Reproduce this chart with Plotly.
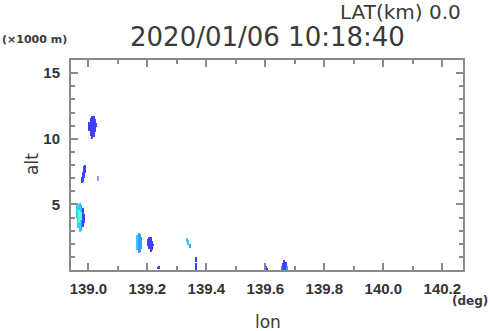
import plotly.graph_objects as go

# ---- data ----
# echo columns: longitude (deg), bottom altitude, top altitude (x1000 m), intensity level
col_lon = [139.004, 139.009, 139.014, 139.019, 139.024, 139.028,
           138.978, 138.982, 138.986, 138.990,
           139.033,
           138.986, 138.982, 138.977, 138.962, 138.967, 138.972, 138.970, 138.975,
           139.166, 139.171, 139.176, 139.180,
           139.202, 139.207, 139.212, 139.217, 139.221,
           139.235, 139.239,
           139.336, 139.340, 139.345,
           139.365, 139.367,
           139.602, 139.606,
           139.657, 139.661, 139.665, 139.669, 139.673]
col_lo = [10.6, 10.2, 10.0, 10.1, 10.5, 10.9,
          6.6, 6.7, 7.0, 7.4,
          6.8,
          3.6, 3.3, 3.0, 4.0, 3.2, 2.9, 3.6, 3.8,
          1.5, 1.3, 1.35, 1.6,
          1.8, 1.6, 1.35, 1.5, 1.8,
          0.05, 0.05,
          2.1, 1.9, 1.7,
          0.0, 0.6,
          0.0, 0.0,
          0.0, 0.0, 0.0, 0.0, 0.0]
col_hi = [11.3, 11.6, 11.75, 11.7, 11.5, 11.2,
          7.1, 7.5, 7.9, 8.0,
          7.2,
          4.3, 4.7, 4.95, 5.0, 5.05, 5.1, 4.6, 4.4,
          2.7, 2.8, 2.75, 2.5,
          2.4, 2.55, 2.5, 2.2, 2.0,
          0.25, 0.3,
          2.45, 2.3, 2.0,
          0.5, 1.0,
          0.3, 0.15,
          0.3, 0.55, 0.75, 0.6, 0.3]
col_level = [2, 2, 2, 2, 2, 2,
             2, 2, 2, 2,
             1,
             2, 2, 3, 4, 4, 4, 5, 5,
             4, 3, 3, 3,
             2, 2, 2, 2, 2,
             2, 2,
             4, 4, 3,
             2, 2,
             2, 2,
             3, 2, 2, 2, 3]

x_ticks = [139.0, 139.2, 139.4, 139.6, 139.8, 140.0, 140.2]
y_ticks = [5, 10, 15]

title_text = "2020/01/06 10:18:40"
lat_text = "LAT(km) 0.0"

level_colors = {1: "#9a9aff", 2: "#4040ff", 3: "#3a9cff", 4: "#33ccff", 5: "#55ffd0"}

# ---- layout geometry (pixels) ----
W, H = 490, 331
L, R, T, B = 71, 27, 60, 61
pw, ph = W - L - R, H - T - B

def px(x):
    return (x - L) / pw

def py(y):
    return (H - B - y) / ph

fig = go.Figure()
fig.add_trace(go.Bar(
    x=col_lon,
    y=[h - l for h, l in zip(col_hi, col_lo)],
    base=col_lo,
    width=0.0048,
    marker=dict(color=[level_colors[v] for v in col_level], line=dict(width=0)),
    hoverinfo="skip",
))

axis_common = dict(
    ticks="inside", ticklen=7, tickwidth=1.5, tickcolor="#8a8a8a",
    showline=True, linecolor="#8a8a8a", linewidth=2, mirror="allticks",
    showgrid=False, zeroline=False,
    tickfont=dict(family="Liberation Sans", size=15, color="#333333", weight="bold"),
)

fig.update_layout(
    width=W, height=H,
    margin=dict(l=L, r=R, t=T, b=B, pad=0),
    paper_bgcolor="white", plot_bgcolor="white",
    showlegend=False, barmode="overlay", bargap=0,
    xaxis=dict(range=[138.941, 140.27], tickvals=x_ticks,
               ticktext=[f"{v:.1f}" for v in x_ticks],
               minor=dict(dtick=0.1, tick0=139.0, ticks="inside", ticklen=4,
                          tickcolor="#8a8a8a", tickwidth=1.5),
               ticklabelstandoff=4,
               **axis_common),
    yaxis=dict(range=[0, 16], tickvals=y_ticks,
               minor=dict(dtick=1, tick0=0, ticks="inside", ticklen=4,
                          tickcolor="#8a8a8a", tickwidth=1.5),
               ticklabelstandoff=6,
               **axis_common),
)

ann = [
    dict(text=title_text, x=px(267.5), y=py(37), xanchor="center", yanchor="middle",
         font=dict(family="DejaVu Sans", size=26, color="#3a3a3a")),
    dict(text=lat_text, x=px(463), y=py(12), xanchor="right", yanchor="middle",
         font=dict(family="DejaVu Sans", size=20, color="#3a3a3a")),
    dict(text="(×1000 m)", x=px(0), y=py(40), xanchor="left", yanchor="middle",
         font=dict(family="DejaVu Sans", size=11, color="#3a3a3a", weight="bold")),
    dict(text="(deg)", x=px(490), y=py(301), xanchor="right", yanchor="middle",
         font=dict(family="DejaVu Sans", size=12, color="#3a3a3a", weight="bold")),
    dict(text="lon", x=px(268), y=py(322), xanchor="center", yanchor="middle",
         font=dict(family="DejaVu Sans", size=17, color="#3a3a3a")),
    dict(text="alt", x=px(32), y=py(164), xanchor="center", yanchor="middle", textangle=-90,
         font=dict(family="DejaVu Sans", size=17, color="#3a3a3a")),
]
for a in ann:
    a.update(xref="paper", yref="paper", showarrow=False)
fig.update_layout(annotations=ann)

fig.write_html("out.html", config={"displayModeBar": False},
               post_script="document.body.style.margin='0';")
